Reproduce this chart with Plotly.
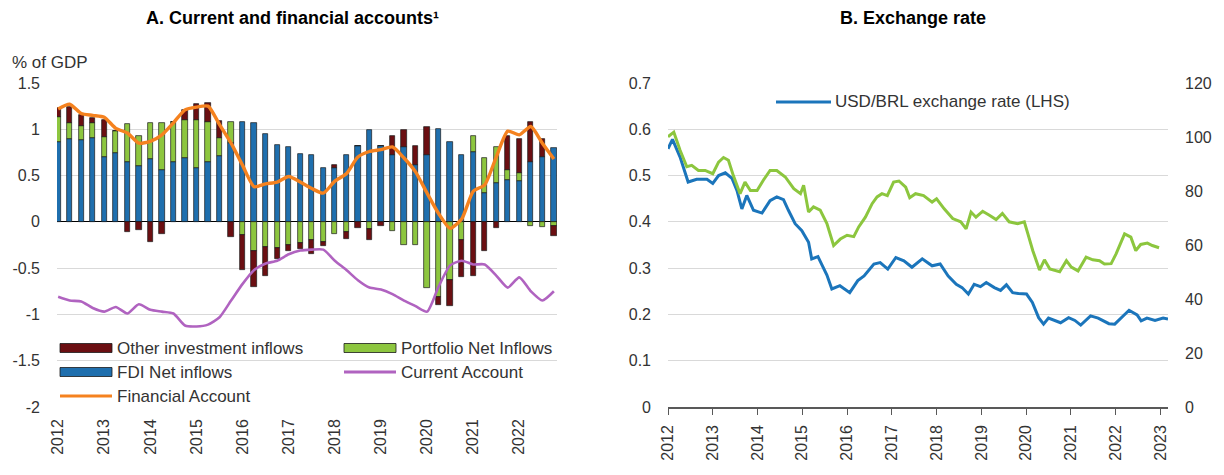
import plotly.graph_objects as go

# ---------------- Panel A data (quarterly, 2012Q1 - 2022Q4) ----------------
quarters = list(range(44))
year_ticks = list(range(0, 44, 4))
year_labels = [str(y) for y in range(2012, 2023)]
a_yticks = [-2, -1.5, -1, -0.5, 0, 0.5, 1, 1.5]
a_ylabels = ["-2", "-1.5", "-1", "-0.5", "0", "0.5", "1", "1.5"]

fdi = [0.86, 0.90, 0.88, 0.91, 0.70, 0.74, 0.65, 0.60, 0.68, 0.56, 0.65, 0.69,
       0.58, 0.65, 0.71, 0.85, 1.08, 1.07, 0.95, 0.83, 0.81, 0.73, 0.72, 0.58,
       0.58, 0.72, 0.82, 0.99, 0.82, 0.72, 0.81, 0.61, 0.72, 1.00, 0.86, 0.72,
       0.75, 0.31, 0.42, 0.45, 0.44, 0.65, 0.70, 0.80]
portfolio = [0.27, 0.17, 0.16, 0.16, 0.22, 0.24, 0.41, 0.33, 0.39, 0.51, 0.43, 0.41,
             0.52, 0.43, 0.20, 0.23, -0.14, -0.31, -0.27, -0.28, -0.25, -0.23, -0.20, -0.22,
             -0.13, -0.11, 0.0, -0.08, 0.0, -0.10, -0.25, -0.25, -0.71, -0.81, -0.63, -0.20,
             0.18, 0.38, 0.39, 0.11, 0.09, -0.05, -0.06, -0.04]
other = [0.10, 0.17, 0.11, 0.05, 0.18, 0.0, -0.11, -0.09, -0.22, -0.13, 0.0, 0.11,
         0.17, 0.20, 0.18, -0.16, -0.38, -0.39, -0.31, -0.12, -0.07, -0.06, -0.15, -0.04,
         0.03, -0.07, -0.07, -0.12, -0.05, 0.21, 0.18, 0.21, 0.31, -0.09, -0.28, -0.40,
         -0.58, -0.32, -0.07, 0.37, 0.37, 0.43, 0.19, -0.11]
financial_account = [1.22, 1.27, 1.17, 1.15, 1.13, 1.01, 0.96, 0.85, 0.87, 0.94, 1.07, 1.21,
                     1.24, 1.25, 1.05, 0.85, 0.61, 0.38, 0.41, 0.43, 0.49, 0.43, 0.36, 0.31,
                     0.44, 0.52, 0.70, 0.76, 0.78, 0.81, 0.69, 0.54, 0.31, 0.09, -0.07, 0.03,
                     0.33, 0.40, 0.70, 0.98, 0.94, 1.03, 0.85, 0.68]
current_account = [-0.81, -0.85, -0.86, -0.93, -0.97, -0.92, -0.99, -0.89, -0.95, -0.97, -0.99, -1.12,
                   -1.13, -1.11, -1.03, -0.85, -0.67, -0.52, -0.45, -0.42, -0.35, -0.31, -0.30, -0.30,
                   -0.42, -0.52, -0.63, -0.71, -0.73, -0.78, -0.85, -0.91, -0.97, -0.70, -0.47, -0.42,
                   -0.46, -0.46, -0.58, -0.71, -0.60, -0.75, -0.85, -0.75]

# ---------------- Panel B data ----------------
usd_brl_t = [2012.0, 2012.1, 2012.27, 2012.45, 2012.64, 2012.87, 2013.0, 2013.13, 2013.28, 2013.43,
             2013.54, 2013.65, 2013.76, 2013.91, 2014.1, 2014.28, 2014.43, 2014.58, 2014.69, 2014.84,
             2014.99, 2015.14, 2015.21, 2015.35, 2015.45, 2015.55, 2015.66, 2015.84, 2016.06, 2016.24,
             2016.38, 2016.6, 2016.74, 2016.91, 2017.09, 2017.27, 2017.45, 2017.68, 2017.9, 2018.08,
             2018.26, 2018.44, 2018.57, 2018.71, 2018.84, 2018.98, 2019.11, 2019.29, 2019.43, 2019.56,
             2019.7, 2019.83, 2020.01, 2020.14, 2020.28, 2020.39, 2020.5, 2020.64, 2020.77, 2020.95,
             2021.09, 2021.22, 2021.44, 2021.61, 2021.71, 2021.85, 2021.98, 2022.12, 2022.3, 2022.48,
             2022.57, 2022.7, 2022.88, 2023.06, 2023.17]
usd_brl = [0.558, 0.578, 0.540, 0.486, 0.492, 0.492, 0.483, 0.500, 0.506, 0.494,
           0.468, 0.428, 0.457, 0.425, 0.419, 0.446, 0.454, 0.448, 0.425, 0.396,
           0.381, 0.356, 0.320, 0.325, 0.305, 0.285, 0.255, 0.262, 0.247, 0.273,
           0.283, 0.309, 0.312, 0.298, 0.323, 0.316, 0.302, 0.320, 0.305, 0.309,
           0.283, 0.265, 0.258, 0.244, 0.265, 0.260, 0.269, 0.258, 0.252, 0.264,
           0.247, 0.245, 0.244, 0.226, 0.193, 0.179, 0.192, 0.186, 0.182, 0.193,
           0.187, 0.177, 0.197, 0.192, 0.187, 0.180, 0.179, 0.193, 0.209, 0.199,
           0.186, 0.192, 0.187, 0.192, 0.190]

index_t = [2012.0, 2012.13, 2012.27, 2012.42, 2012.53, 2012.68, 2012.83,
           2013.0, 2013.13, 2013.24, 2013.35, 2013.46, 2013.61, 2013.72, 2013.84, 2013.99,
           2014.13, 2014.28, 2014.43, 2014.62, 2014.81, 2014.96,
           2015.03, 2015.14, 2015.25, 2015.4, 2015.55, 2015.7, 2015.85,
           2016.0, 2016.15, 2016.26, 2016.41, 2016.56, 2016.67, 2016.78, 2016.9,
           2017.04, 2017.16, 2017.31, 2017.4, 2017.53, 2017.71, 2017.9,
           2018.0, 2018.17, 2018.36, 2018.54, 2018.66, 2018.77, 2018.88,
           2019.03, 2019.18, 2019.33, 2019.47, 2019.62, 2019.81, 2019.96,
           2020.04, 2020.15, 2020.3, 2020.41, 2020.53, 2020.67, 2020.75, 2020.9,
           2021.01, 2021.16, 2021.34, 2021.49, 2021.64, 2021.75, 2021.9,
           2022.01, 2022.2, 2022.34, 2022.45, 2022.56, 2022.71, 2022.82, 2022.97]
index_rhs = [100.1, 101.8, 95.1, 89.0, 89.5, 87.6, 87.6,
             86.4, 90.7, 92.4, 91.4, 85.7, 79.0, 83.3, 80.2, 80.2,
             84.0, 87.6, 87.6, 85.2, 80.9, 79.0,
             82.1, 72.2, 74.1, 72.9, 67.9, 59.8, 62.2,
             63.6, 63.1, 66.7, 70.3, 75.3, 77.8, 79.0, 78.3,
             83.3, 83.7, 81.4, 77.5, 79.0, 78.3, 75.9,
             77.1, 73.4, 69.8, 68.6, 66.0, 72.2, 70.3,
             72.5, 71.0, 69.4, 71.7, 68.6, 67.9, 68.6,
             64.1, 57.9, 50.7, 54.5, 51.1, 50.6, 50.1, 54.2,
             51.8, 50.4, 55.5, 54.5, 54.2, 53.0, 53.1,
             56.7, 64.1, 62.9, 57.9, 60.2, 60.7, 59.8, 59.0]
b_years = list(range(2012, 2024))

# ---------------- Styles ----------------
W, H = 1224, 475
FONT = "Liberation Sans"
C_FDI = "#1f6fae"
C_PORT = "#8dc63f"
C_OTHER = "#6b0f12"
C_FA = "#f5821f"
C_CA = "#b063c0"
C_FX = "#1b75bb"
C_IDX = "#8cc63e"
GRID = "#d9d9d9"
TXT = "#333333"


def px(x):
    return x / W


def py(y):
    return 1 - y / H


fig = go.Figure()
outline = dict(color="#1a1a1a", width=0.7)
fig.add_trace(go.Bar(x=quarters, y=fdi, name="FDI Net inflows", marker=dict(color=C_FDI, line=outline),
                     width=0.46, xaxis="x", yaxis="y", showlegend=False))
fig.add_trace(go.Bar(x=quarters, y=portfolio, name="Portfolio Net Inflows", marker=dict(color=C_PORT, line=outline),
                     width=0.46, xaxis="x", yaxis="y", showlegend=False))
fig.add_trace(go.Bar(x=quarters, y=other, name="Other investment inflows", marker=dict(color=C_OTHER, line=outline),
                     width=0.46, xaxis="x", yaxis="y", showlegend=False))
fig.add_trace(go.Scatter(x=quarters, y=current_account, name="Current Account", mode="lines",
                         line=dict(color=C_CA, width=2.6, shape="spline", smoothing=0.6),
                         xaxis="x", yaxis="y", showlegend=False))
fig.add_trace(go.Scatter(x=quarters, y=financial_account, name="Financial Account", mode="lines",
                         line=dict(color=C_FA, width=3.4, shape="spline", smoothing=0.6),
                         xaxis="x", yaxis="y", showlegend=False))

fig.add_trace(go.Scatter(x=index_t, y=index_rhs, name="Index (RHS)", mode="lines",
                         line=dict(color=C_IDX, width=3), xaxis="x2", yaxis="y3", showlegend=False))
fig.add_trace(go.Scatter(x=usd_brl_t, y=usd_brl, name="USD/BRL exchange rate (LHS)", mode="lines",
                         line=dict(color=C_FX, width=3), xaxis="x2", yaxis="y2", showlegend=False))

ydom = [py(407), py(83)]
tickfont = dict(family=FONT, size=16, color=TXT)

fig.update_layout(
    width=W, height=H,
    margin=dict(l=0, r=0, t=0, b=0, autoexpand=False),
    paper_bgcolor="white", plot_bgcolor="white",
    barmode="relative", bargap=0,
    font=dict(family=FONT, color=TXT),
    xaxis=dict(domain=[px(57), px(557)], range=[-0.1, 43.27], tickmode="array",
               tickvals=year_ticks, ticktext=year_labels, tickangle=-90, tickfont=tickfont,
               showgrid=False, zeroline=False, showline=False, ticks="", ticklabelstandoff=8,
               automargin=False),
    yaxis=dict(domain=ydom, range=[-2, 1.5], tickmode="array", tickvals=a_yticks, ticktext=a_ylabels,
               showgrid=True, gridcolor=GRID, gridwidth=1.3,
               zeroline=True, zerolinecolor="#000000", zerolinewidth=1.3,
               showline=False, ticks="", tickfont=tickfont, ticklabelstandoff=16, automargin=False),
    xaxis2=dict(domain=[px(668), px(1168)], range=[2012.0, 2023.17], tickmode="array",
                tickvals=b_years, ticktext=[str(y) for y in b_years], tickangle=-90, tickfont=tickfont,
                showgrid=False, zeroline=False, showline=True, linecolor="#595959", linewidth=1.5,
                ticks="outside", ticklen=6, tickcolor="#595959", tickwidth=1.3, anchor="y2",
                ticklabelstandoff=4, automargin=False),
    yaxis2=dict(domain=ydom, range=[0, 0.7], dtick=0.1, tickmode="linear", tick0=0, anchor="x2",
                showgrid=True, gridcolor=GRID, gridwidth=1.3, zeroline=False, showline=False,
                ticks="", tickfont=tickfont, ticklabelstandoff=16, automargin=False),
    yaxis3=dict(domain=ydom, range=[0, 120], dtick=20, tickmode="linear", tick0=0, anchor="x2",
                overlaying="y2", side="right", showgrid=False, zeroline=False, showline=False,
                ticks="", tickfont=tickfont, ticklabelstandoff=16, automargin=False),
)

ann = []
ann.append(dict(text="<b>A. Current and financial accounts¹</b>", x=px(292), y=py(18),
                xref="paper", yref="paper", showarrow=False, xanchor="center", yanchor="middle",
                font=dict(family=FONT, size=18, color="#000000")))
ann.append(dict(text="<b>B. Exchange rate</b>", x=px(913), y=py(18),
                xref="paper", yref="paper", showarrow=False, xanchor="center", yanchor="middle",
                font=dict(family=FONT, size=18, color="#000000")))
ann.append(dict(text="% of GDP", x=px(10), y=py(62), xref="paper", yref="paper", showarrow=False,
                xanchor="left", yanchor="middle", font=dict(family=FONT, size=17, color=TXT)))

shapes = []
legend_items = [
    ("Other investment inflows", "rect", C_OTHER, 60, 348),
    ("Portfolio Net Inflows", "rect", C_PORT, 344, 348),
    ("FDI Net inflows", "rect", C_FDI, 60, 372),
    ("Current Account", "line", C_CA, 344, 372),
    ("Financial Account", "line", C_FA, 60, 396),
]
for label, kind, color, x0, yc in legend_items:
    if kind == "rect":
        shapes.append(dict(type="rect", xref="paper", yref="paper", x0=px(x0), x1=px(x0 + 52),
                           y0=py(yc + 4.5), y1=py(yc - 4.5), fillcolor=color,
                           line=dict(color="#1a1a1a", width=0.8)))
    else:
        shapes.append(dict(type="line", xref="paper", yref="paper", x0=px(x0), x1=px(x0 + 52),
                           y0=py(yc), y1=py(yc), line=dict(color=color, width=3)))
    ann.append(dict(text=label, x=px(x0 + 55), y=py(yc), xref="paper", yref="paper", showarrow=False,
                    xanchor="left", yanchor="middle", font=dict(family=FONT, size=17, color=TXT)))

shapes.append(dict(type="line", xref="paper", yref="paper", x0=px(776), x1=px(831),
                   y0=py(102), y1=py(102), line=dict(color=C_FX, width=3)))
ann.append(dict(text="USD/BRL exchange rate (LHS)", x=px(833), y=py(102), xref="paper", yref="paper",
                showarrow=False, xanchor="left", yanchor="middle",
                font=dict(family=FONT, size=17, color=TXT)))

fig.update_layout(annotations=ann, shapes=shapes)
fig.write_html("out.html", config={"displayModeBar": False},
               post_script="document.body.style.margin='0';document.body.style.overflow='hidden';")
